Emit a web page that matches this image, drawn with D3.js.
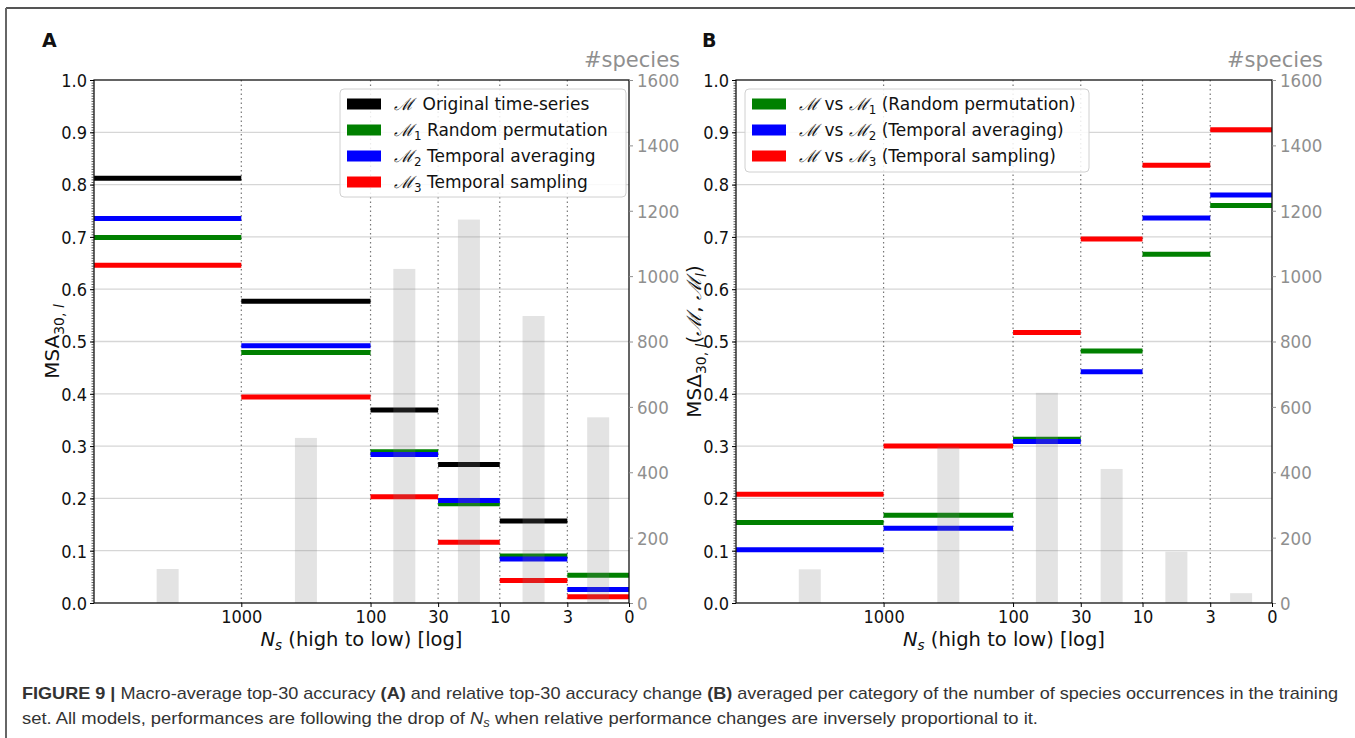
<!DOCTYPE html>
<html><head><meta charset="utf-8">
<script src="https://cdn.jsdelivr.net/npm/d3@7"></script>
<style>
body{margin:0;background:#fff}
svg text{font-family:'DejaVu Sans',sans-serif}
svg text.cond{font-family:'DejaVu Sans Condensed','DejaVu Sans',sans-serif;font-stretch:condensed}
svg text.cap{font-family:'Liberation Sans Narrow','Liberation Sans',Arial,sans-serif}
</style></head><body>
<svg id="c" width="1355" height="738"></svg>
<script>
// ---------- data ----------
const binBounds = [13800, 1000, 100, 30, 10, 3, 1];
const xTickValues = [1000, 100, 30, 10, 3, 1];
const xTickLabels = ["1000", "100", "30", "10", "3", "0"];
const yTickValues = [0, 0.1, 0.2, 0.3, 0.4, 0.5, 0.6, 0.7, 0.8, 0.9, 1.0];
const speciesTicks = [0, 200, 400, 600, 800, 1000, 1200, 1400, 1600];

// Panel A: MSA per bin
const aOriginal = [0.812, 0.577, 0.369, 0.265, 0.157, null];
const aRandomPerm = [0.699, 0.479, 0.289, 0.190, 0.090, 0.053];
const aTempAvg = [0.735, 0.492, 0.284, 0.196, 0.084, 0.026];
const aTempSamp = [0.646, 0.394, 0.203, 0.116, 0.043, 0.012];
const aSpecies = [104, 505, 1022, 1173, 878, 568];

// Panel B: relative change per bin
const bRandomPerm = [0.154, 0.168, 0.313, 0.482, 0.667, 0.760];
const bTempAvg = [0.102, 0.143, 0.309, 0.442, 0.736, 0.780];
const bTempSamp = [0.208, 0.300, 0.517, 0.696, 0.837, 0.905];
const bSpecies = [103, 478, 643, 410, 157, 30];

const legendA = ["Original time-series", "Random permutation", "Temporal averaging", "Temporal sampling"];
const legendB = ["(Random permutation)", "(Temporal averaging)", "(Temporal sampling)"];

// ---------- drawing ----------
const svg = d3.select("#c");
const TOP = 80, BOTTOM = 603;
const grayTxt = "#8f8f8f";

// frame
svg.append("line").attr("x1", 6).attr("x2", 1355).attr("y1", 8).attr("y2", 8).attr("stroke", "#555").attr("stroke-width", 2);
svg.append("line").attr("x1", 6).attr("x2", 6).attr("y1", 8).attr("y2", 738).attr("stroke", "#666").attr("stroke-width", 2);

// calligraphic M with optional subscript; "after" text returns to baseline
function calM(t, sub, after) {
  t.append("tspan").attr("font-style", "italic").attr("font-family", "DejaVu Serif, serif").text("\u2133");
  if (sub != null) {
    t.append("tspan").attr("font-size", "0.7em").attr("dy", 4).text(sub);
    t.append("tspan").attr("dy", -4).text(after);
  } else {
    t.append("tspan").text(after);
  }
}

function drawPanel(cfg) {
  const g = svg.append("g");
  const x = d3.scaleLog().domain([binBounds[0], binBounds[binBounds.length - 1]]).range([cfg.x0, cfg.x1]);
  const y = d3.scaleLinear().domain([0, 1]).range([BOTTOM, TOP]);
  const y2 = d3.scaleLinear().domain([0, 1600]).range([BOTTOM, TOP]);

  // horizontal grid
  g.append("g").selectAll("line").data(yTickValues.filter(v => v > 0 && v < 1)).join("line")
    .attr("x1", cfg.x0).attr("x2", cfg.x1).attr("y1", d => y(d)).attr("y2", d => y(d))
    .attr("stroke", "#d6d6d6").attr("stroke-width", 1.3);
  // vertical dotted grid
  g.append("g").selectAll("line").data(xTickValues.slice(0, -1)).join("line")
    .attr("x1", d => x(d)).attr("x2", d => x(d)).attr("y1", TOP).attr("y2", BOTTOM)
    .attr("stroke", "#777").attr("stroke-width", 1.2).attr("stroke-dasharray", "1.5,3");

  // series lines
  const bins = d3.range(binBounds.length - 1);
  cfg.series.forEach(s => {
    g.append("g").selectAll("line").data(bins.filter(i => s.values[i] != null)).join("line")
      .attr("x1", i => x(binBounds[i])).attr("x2", i => x(binBounds[i + 1]))
      .attr("y1", i => y(s.values[i])).attr("y2", i => y(s.values[i]))
      .attr("stroke", s.color).attr("stroke-width", 5);
  });

  // species histogram bars (translucent, on top)
  const bw = 22;
  g.append("g").selectAll("rect").data(bins).join("rect")
    .attr("x", i => x(Math.sqrt(binBounds[i] * binBounds[i + 1])) - bw / 2)
    .attr("width", bw)
    .attr("y", i => y2(cfg.species[i]))
    .attr("height", i => BOTTOM - y2(cfg.species[i]))
    .attr("fill", "#808080").attr("fill-opacity", 0.22);

  // box
  g.append("rect").attr("x", cfg.x0).attr("y", TOP).attr("width", cfg.x1 - cfg.x0).attr("height", BOTTOM - TOP)
    .attr("fill", "none").attr("stroke", "#111").attr("stroke-width", 1.3);

  // minor ticks on left
  const minor = g.append("g").attr("transform", `translate(${cfg.x0},0)`)
    .call(d3.axisLeft(y).tickValues(d3.range(0, 201).map(k => k * 0.005)).tickSize(2.5).tickFormat(""));
  minor.select(".domain").remove();
  minor.selectAll("line").attr("stroke", "#333").attr("stroke-width", 0.8);

  // left axis
  const ax = g.append("g").attr("transform", `translate(${cfg.x0},0)`)
    .call(d3.axisLeft(y).tickValues(yTickValues).tickFormat(d3.format(".1f")).tickSize(4).tickPadding(3).tickSizeOuter(0));
  ax.select(".domain").remove();
  ax.attr("font-family", null).attr("font-size", null);
  ax.selectAll("text").attr("class", "cond").attr("font-size", 18).attr("fill", "#111").attr("dy", "0.35em");

  // right axis
  const ar = g.append("g").attr("transform", `translate(${cfg.x1},0)`)
    .call(d3.axisRight(y2).tickValues(speciesTicks).tickFormat(d3.format("d")).tickSize(4).tickPadding(4).tickSizeOuter(0));
  ar.select(".domain").remove();
  ar.attr("font-family", null).attr("font-size", null);
  ar.selectAll("line").attr("stroke", grayTxt);
  ar.selectAll("text").attr("class", "cond").attr("font-size", 18.5).attr("fill", grayTxt).attr("dy", "0.35em");

  // bottom axis
  const ab = g.append("g").attr("transform", `translate(0,${BOTTOM})`)
    .call(d3.axisBottom(x).tickValues(xTickValues).tickFormat((d, i) => xTickLabels[i]).tickSize(4).tickPadding(3).tickSizeOuter(0));
  ab.select(".domain").remove();
  ab.attr("font-family", null).attr("font-size", null);
  ab.selectAll("text").attr("class", "cond").attr("font-size", 18).attr("fill", "#111");

  // x label
  const xl = g.append("text").attr("x", (cfg.x0 + cfg.x1) / 2).attr("y", 646).attr("text-anchor", "middle")
    .attr("font-size", 19.5).attr("fill", "#111");
  xl.append("tspan").attr("font-style", "italic").text("N");
  xl.append("tspan").attr("font-style", "italic").attr("font-size", 13.5).attr("dy", 4).text("s");
  xl.append("tspan").attr("dy", -4).text(" (high to low) [log]");

  // y label
  const yl = g.append("text").attr("transform", `translate(${cfg.x0 - 35},${(TOP + BOTTOM) / 2}) rotate(-90)`)
    .attr("text-anchor", "middle").attr("font-size", 20).attr("fill", "#111");
  cfg.ylabel(yl);

  // #species
  g.append("text").attr("x", cfg.x1 + 51).attr("y", 67).attr("text-anchor", "end")
    .attr("font-size", 21).attr("fill", grayTxt).text("#species");

  // panel letter
  g.append("text").attr("x", cfg.letterX).attr("y", 47).attr("font-size", 19).attr("font-weight", "bold")
    .attr("fill", "#111").text(cfg.letter);

  // legend
  const L = cfg.legend;
  const lg = g.append("g");
  lg.append("rect").attr("x", L.x).attr("y", L.y).attr("width", L.w).attr("height", L.h).attr("rx", 4)
    .attr("fill", "#fff").attr("fill-opacity", 0.85).attr("stroke", "#d0d0d0").attr("stroke-width", 1);
  L.items.forEach((it, i) => {
    const cy = L.y + 15 + i * 26;
    lg.append("rect").attr("x", L.x + 7).attr("y", cy - 5.5).attr("width", 34).attr("height", 11).attr("fill", it.color);
    const t = lg.append("text").attr("x", L.x + 54).attr("y", cy + 6).attr("font-size", 17).attr("fill", "#111");
    it.render(t);
  });
}

drawPanel({
  x0: 94, x1: 629, letter: "A", letterX: 42,
  species: aSpecies,
  series: [
    {values: aOriginal, color: "#000000"},
    {values: aRandomPerm, color: "#008000"},
    {values: aTempAvg, color: "#0000ff"},
    {values: aTempSamp, color: "#ff0000"}
  ],
  ylabel: t => {
    t.append("tspan").text("MSA");
    t.append("tspan").attr("font-size", 14).attr("dy", 5).text("30, ");
    t.append("tspan").attr("font-size", 14).attr("font-style", "italic").text("l");
  },
  legend: {
    x: 340, y: 89, w: 286, h: 108,
    items: [
      {color: "#000000", render: t => calM(t, null, "\u2002" + legendA[0])},
      {color: "#008000", render: t => calM(t, "1", " " + legendA[1])},
      {color: "#0000ff", render: t => calM(t, "2", " " + legendA[2])},
      {color: "#ff0000", render: t => calM(t, "3", " " + legendA[3])}
    ]
  }
});

drawPanel({
  x0: 736, x1: 1272, letter: "B", letterX: 702,
  species: bSpecies,
  series: [
    {values: bRandomPerm, color: "#008000"},
    {values: bTempAvg, color: "#0000ff"},
    {values: bTempSamp, color: "#ff0000"}
  ],
  ylabel: t => {
    t.append("tspan").text("MS\u0394");
    t.append("tspan").attr("font-size", 14).attr("dy", 5).text("30, ");
    t.append("tspan").attr("font-size", 14).attr("font-style", "italic").text("l");
    t.append("tspan").attr("dy", -5).text("(");
    calM(t, null, ", ");
    calM(t, null, "");
    t.append("tspan").attr("font-size", 14).attr("font-style", "italic").attr("dy", 5).text("l");
    t.append("tspan").attr("dy", -5).text(")");
  },
  legend: {
    x: 745, y: 89, w: 344, h: 83,
    items: [
      {color: "#008000", render: t => { calM(t, null, " vs "); calM(t, "1", " " + legendB[0]); }},
      {color: "#0000ff", render: t => { calM(t, null, " vs "); calM(t, "2", " " + legendB[1]); }},
      {color: "#ff0000", render: t => { calM(t, null, " vs "); calM(t, "3", " " + legendB[2]); }}
    ]
  }
});

// caption
const c1 = svg.append("text").attr("class", "cap").attr("x", 22).attr("y", 699).attr("font-size", 17).attr("fill", "#333")
  .attr("textLength", 1316).attr("lengthAdjust", "spacingAndGlyphs");
c1.append("tspan").attr("font-weight", "bold").text("FIGURE 9 | ");
c1.append("tspan").text("Macro-average top-30 accuracy ");
c1.append("tspan").attr("font-weight", "bold").text("(A)");
c1.append("tspan").text(" and relative top-30 accuracy change ");
c1.append("tspan").attr("font-weight", "bold").text("(B)");
c1.append("tspan").text(" averaged per category of the number of species occurrences in the training");
const c2 = svg.append("text").attr("class", "cap").attr("x", 22).attr("y", 724).attr("font-size", 17).attr("fill", "#333")
  .attr("textLength", 1016).attr("lengthAdjust", "spacingAndGlyphs");
c2.append("tspan").text("set. All models, performances are following the drop of ");
c2.append("tspan").attr("font-style", "italic").text("N");
c2.append("tspan").attr("font-style", "italic").attr("font-size", 12).attr("dy", 3).text("s");
c2.append("tspan").attr("dy", -3).text(" when relative performance changes are inversely proportional to it.");
</script>
</body></html>
